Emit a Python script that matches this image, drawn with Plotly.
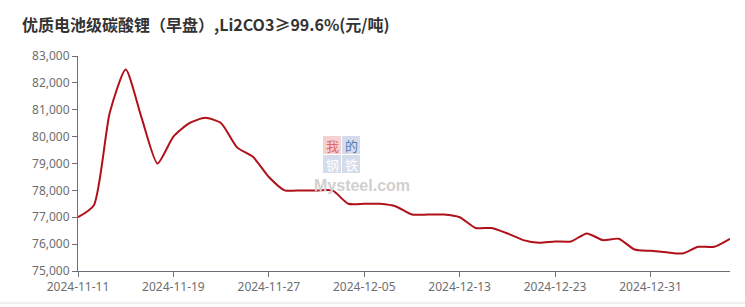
import plotly.graph_objects as go

dates = ["2024-11-11","2024-11-12","2024-11-13","2024-11-14","2024-11-15","2024-11-18","2024-11-19",
         "2024-11-20","2024-11-21","2024-11-22","2024-11-25","2024-11-26","2024-11-27",
         "2024-11-28","2024-11-29","2024-12-02","2024-12-03","2024-12-04","2024-12-05",
         "2024-12-06","2024-12-09","2024-12-10","2024-12-11","2024-12-12","2024-12-13",
         "2024-12-16","2024-12-17","2024-12-18","2024-12-19","2024-12-20","2024-12-23",
         "2024-12-24","2024-12-25","2024-12-26","2024-12-27","2024-12-30","2024-12-31",
         "2025-01-02","2025-01-03","2025-01-06","2025-01-07","2025-01-08"]
prices = [77000, 77450, 80900, 82500, 80700, 79000, 80000,
          80500, 80700, 80500, 79600, 79250, 78500,
          78000, 78000, 78000, 78000, 77500, 77500,
          77500, 77400, 77100, 77100, 77100, 77000,
          76600, 76600, 76400, 76150, 76050, 76100,
          76100, 76400, 76150, 76200, 75800, 75750,
          75700, 75650, 75900, 75900, 76200]
tick_labels = ["2024-11-11","2024-11-19","2024-11-27","2024-12-05","2024-12-13","2024-12-23","2024-12-31"]
y_ticks = [75000, 76000, 77000, 78000, 79000, 80000, 81000, 82000, 83000]
title = "优质电池级碳酸锂（早盘）,Li2CO3≥99.6%(元/吨)"

fig = go.Figure()
fig.add_trace(go.Scatter(
    x=list(range(len(dates))), y=prices, mode="lines",
    line=dict(color="#b01018", width=2, shape="spline", smoothing=0.6),
    hoverinfo="skip", showlegend=False))

axis_font = dict(family="Noto Sans, Liberation Sans, sans-serif", size=12, color="#6e6e6e")
fig.update_xaxes(
    range=[0, len(dates) - 1],
    tickmode="array",
    tickvals=[dates.index(d) for d in tick_labels],
    ticktext=tick_labels,
    showgrid=False, zeroline=False,
    showline=True, linecolor="#6e7079", linewidth=1,
    ticks="outside", ticklen=5, tickcolor="#6e7079",
    tickfont=axis_font)
fig.update_yaxes(
    range=[75000, 83000],
    tickmode="array",
    tickvals=y_ticks,
    ticktext=[f"{v:,}" for v in y_ticks],
    showgrid=False, zeroline=False,
    showline=True, linecolor="#6e7079", linewidth=1,
    ticks="outside", ticklen=5, tickcolor="#6e7079",
    tickfont=axis_font)

# watermark
boxes = [("我", 323, 136, "#f3c6c6", "#e06a6a"), ("的", 342, 136, "#c9d3e6", "#5a78b0"),
         ("钢", 323, 155, "#c9d3e6", "#ffffff"), ("铁", 342, 155, "#c9d3e6", "#ffffff")]
W, H = 745, 307
l, r, t, b = 78, 15, 56, 36
pw, ph = W - l - r, H - t - b
def px(x): return (x - l) / pw
def py(y): return (H - b - y) / ph
for ch, x0, y0, bg, fg in boxes:
    fig.add_shape(type="rect", xref="paper", yref="paper",
                  x0=px(x0), x1=px(x0 + 18), y0=py(y0 + 18), y1=py(y0),
                  fillcolor=bg, line_width=0, layer="below", opacity=0.8)
    fig.add_annotation(text=ch, xref="paper", yref="paper", x=px(x0 + 9), y=py(y0 + 9),
                       showarrow=False, font=dict(family="Noto Sans CJK SC", size=13, color=fg),
                       xanchor="center", yanchor="middle", borderpad=0)
fig.add_annotation(text="<b>Mysteel.com</b>", xref="paper", yref="paper", x=px(362), y=py(185),
                   showarrow=False, font=dict(family="Liberation Sans, sans-serif", size=16, color="#d0d0d0"),
                   xanchor="center", yanchor="middle")

fig.add_shape(type="line", xref="paper", yref="paper", x0=-l / pw, x1=(W - l) / pw,
              y0=py(303), y1=py(303), line=dict(color="#e0e0e0", width=1))

fig.update_layout(
    width=W, height=H,
    margin=dict(l=l, r=r, t=t, b=b, pad=0),
    paper_bgcolor="white", plot_bgcolor="white",
    title=dict(text=f"<b>{title}</b>", x=22 / W, xanchor="left", y=1 - 25 / H, yanchor="middle",
               font=dict(family="Noto Sans CJK SC", size=16, color="#333333")),
)
fig.write_html("out.html")
